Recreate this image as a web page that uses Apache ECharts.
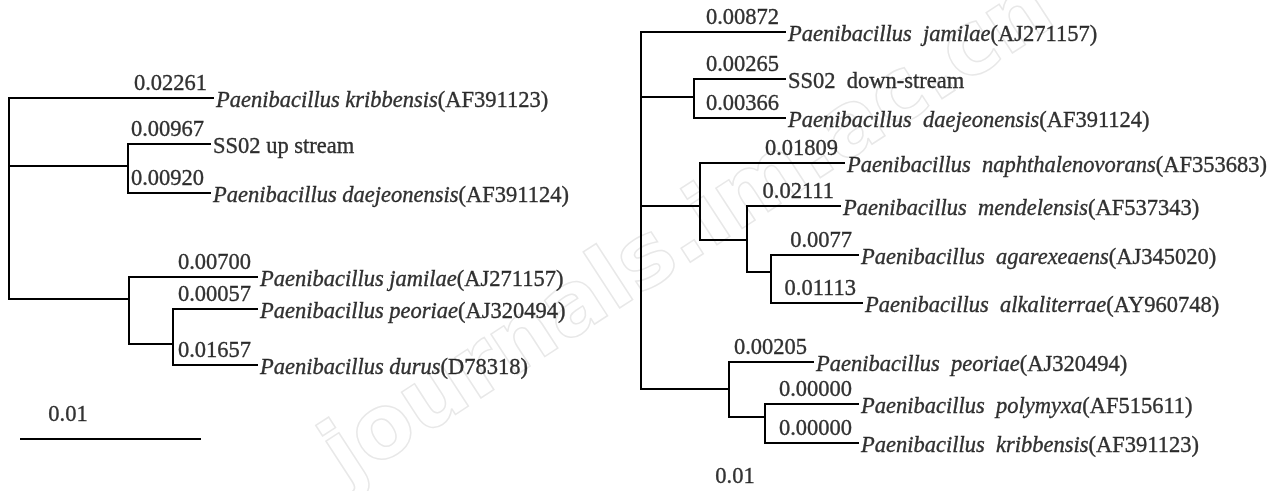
<!DOCTYPE html>
<html>
<head>
<meta charset="utf-8">
<title>Paenibacillus trees</title>
<script src="https://cdn.jsdelivr.net/npm/echarts@6/dist/echarts.min.js"></script>
<style>
  html, body { margin: 0; padding: 0; background: #fff; }
  #chart { width: 1280px; height: 491px; }
</style>
</head>
<body>
<div id="chart"></div>
<script>
  // left tree (up stream), leaves top to bottom
  const leftTaxa = ['Paenibacillus kribbensis', 'SS02 up stream', 'Paenibacillus daejeonensis',
    'Paenibacillus jamilae', 'Paenibacillus peoriae', 'Paenibacillus durus'];
  const leftAcc = ['AF391123', '', 'AF391124', 'AJ271157', 'AJ320494', 'D78318'];
  const leftLengths = ['0.02261', '0.00967', '0.00920', '0.00700', '0.00057', '0.01657'];
  const leftLeafDepth = [213, 210, 210, 257, 257, 257];
  const leftLeafRow = [98, 144, 193, 277, 309, 365];
  const leftLeafParent = [0, 1, 1, 2, 3, 3];
  // inner nodes: root, (SS02 + daejeonensis), (jamilae + ...), (peoriae + durus)
  const leftNodeDepth = [9, 128, 129, 173];
  const leftNodeRow = [166, 166, 299, 344];
  const leftNodeParent = [-1, 0, 0, 2];
  const leftScaleBar = [21, 200];
  const leftScaleRow = 439;
  const leftScaleLabel = [68, 415];

  // right tree (down-stream)
  const rightTaxa = ['Paenibacillus  jamilae', 'SS02  down-stream', 'Paenibacillus  daejeonensis',
    'Paenibacillus  naphthalenovorans', 'Paenibacillus  mendelensis', 'Paenibacillus  agarexeaens',
    'Paenibacillus  alkaliterrae', 'Paenibacillus  peoriae', 'Paenibacillus  polymyxa',
    'Paenibacillus  kribbensis'];
  const rightAcc = ['AJ271157', '', 'AF391124', 'AF353683', 'AF537343', 'AJ345020',
    'AY960748', 'AJ320494', 'AF515611', 'AF391123'];
  const rightLengths = ['0.00872', '0.00265', '0.00366', '0.01809', '0.02111', '0.0077',
    '0.01113', '0.00205', '0.00000', '0.00000'];
  const rightLeafDepth = [785, 785, 785, 844, 840, 858, 862, 813, 858, 858];
  const rightLeafRow = [32, 79, 118, 163, 206, 255, 303, 362, 404, 443];
  const rightLeafParent = [0, 1, 1, 2, 3, 4, 4, 5, 6, 6];
  const rightNodeDepth = [641, 694, 700, 747, 771, 729, 765];
  const rightNodeRow = [206, 97, 206, 240, 272, 389, 417];
  const rightNodeParent = [-1, 0, 0, 2, 3, 0, 5];
  const rightScaleLabel = [735, 477];

  const FONT = '"Liberation Serif", "Times New Roman", serif';
  const FS = 22.5;
  // thin outline makes the serif text a little heavier, like the scan
  const INK = { color: '#000', textBorderColor: '#000', textBorderWidth: 0.35 };

  function buildTree(t, gi) {
    const out = [];
    const edge = pts => ({
      type: 'line', xAxisIndex: gi, yAxisIndex: gi, data: pts,
      symbol: 'none', silent: true, animation: false, z: 3,
      lineStyle: { color: '#000', width: 2, cap: 'square', join: 'miter' }
    });
    t.nodeDepth.forEach((d, i) => {
      const p = t.nodeParent[i];
      if (p < 0) return;
      out.push(edge([[t.nodeDepth[p], t.nodeRow[p]], [t.nodeDepth[p], t.nodeRow[i]], [d, t.nodeRow[i]]]));
    });
    t.leafDepth.forEach((d, i) => {
      const p = t.leafParent[i];
      out.push(edge([[t.nodeDepth[p], t.nodeRow[p]], [t.nodeDepth[p], t.leafRow[i]], [d, t.leafRow[i]]]));
    });
    // taxon names
    out.push({
      type: 'scatter', xAxisIndex: gi, yAxisIndex: gi, symbolSize: 0, silent: true, animation: false,
      data: t.leafDepth.map((d, i) => [d, t.leafRow[i]]),
      label: {
        show: true, position: 'right', distance: 3, offset: [0, 3],
        formatter: p => {
          const i = p.dataIndex;
          if (!t.acc[i]) return '{n|' + t.taxa[i] + '}';
          return '{i|' + t.taxa[i] + '}{n|(' + t.acc[i] + ')}';
        },
        rich: {
          i: Object.assign({ fontFamily: FONT, fontSize: FS, fontStyle: 'italic' }, INK),
          n: Object.assign({ fontFamily: FONT, fontSize: FS }, INK)
        }
      }
    });
    // branch lengths
    out.push({
      type: 'scatter', xAxisIndex: gi, yAxisIndex: gi, symbolSize: 0, silent: true, animation: false,
      data: t.leafDepth.map((d, i) => [d, t.leafRow[i]]),
      label: Object.assign({
        show: true, position: 'left', distance: 6, offset: [0, -14],
        formatter: p => t.lengths[p.dataIndex],
        fontFamily: FONT, fontSize: FS
      }, INK)
    });
    // scale
    if (t.scaleBar) {
      out.push(edge([[t.scaleBar[0], t.scaleRow], [t.scaleBar[1], t.scaleRow]]));
    }
    out.push({
      type: 'scatter', xAxisIndex: gi, yAxisIndex: gi, symbolSize: 0, silent: true, animation: false,
      data: [t.scaleLabel],
      label: Object.assign({
        show: true, position: 'inside', formatter: '0.01',
        fontFamily: FONT, fontSize: FS
      }, INK)
    });
    return out;
  }

  const leftTree = {
    taxa: leftTaxa, acc: leftAcc, lengths: leftLengths,
    leafDepth: leftLeafDepth, leafRow: leftLeafRow, leafParent: leftLeafParent,
    nodeDepth: leftNodeDepth, nodeRow: leftNodeRow, nodeParent: leftNodeParent,
    scaleBar: leftScaleBar, scaleRow: leftScaleRow, scaleLabel: leftScaleLabel
  };
  const rightTree = {
    taxa: rightTaxa, acc: rightAcc, lengths: rightLengths,
    leafDepth: rightLeafDepth, leafRow: rightLeafRow, leafParent: rightLeafParent,
    nodeDepth: rightNodeDepth, nodeRow: rightNodeRow, nodeParent: rightNodeParent,
    scaleLabel: rightScaleLabel
  };

  const chart = echarts.init(document.getElementById('chart'), null, { renderer: 'canvas' });
  chart.setOption({
    backgroundColor: '#fff',
    animation: false,
    grid: [
      { left: 0, top: 0, width: 620, height: 491 },
      { left: 620, top: 0, width: 660, height: 491 }
    ],
    xAxis: [
      { type: 'value', gridIndex: 0, min: 0, max: 620, show: false },
      { type: 'value', gridIndex: 1, min: 620, max: 1280, show: false }
    ],
    yAxis: [
      { type: 'value', gridIndex: 0, min: 0, max: 491, inverse: true, show: false },
      { type: 'value', gridIndex: 1, min: 0, max: 491, inverse: true, show: false }
    ],
    // faint journal watermark
    graphic: [{
      type: 'text', x: 690, y: 235, rotation: 33 * Math.PI / 180, z: 0, silent: true,
      style: {
        text: 'journals.im.ac.cn', font: 'bold 88px "DejaVu Sans"',
        fill: 'rgba(255,255,255,0)', stroke: '#e8e8e8', lineWidth: 1.5,
        textAlign: 'center', textVerticalAlign: 'middle'
      }
    }],
    series: [].concat(buildTree(leftTree, 0), buildTree(rightTree, 1))
  });
</script>
</body>
</html>
